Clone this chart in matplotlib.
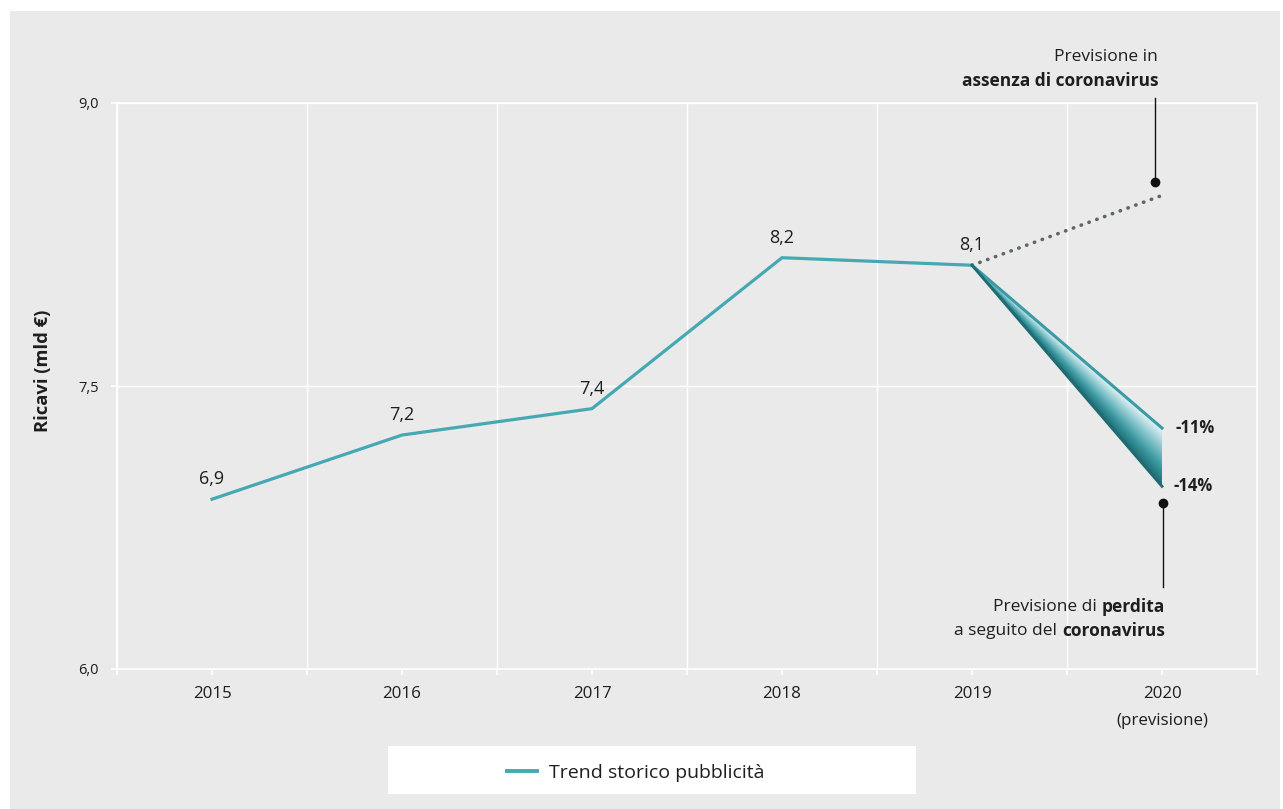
import numpy as np
import matplotlib
matplotlib.use("Agg")
import matplotlib.pyplot as plt
from matplotlib.patches import Rectangle, Polygon
from matplotlib.colors import LinearSegmentedColormap
from matplotlib.lines import Line2D

plt.rcParams["font.family"] = ["Open Sans", "DejaVu Sans"]

# --- data -------------------------------------------------------------
years = [2015, 2016, 2017, 2018, 2019]
revenue = [6.90, 7.24, 7.38, 8.18, 8.14]          # mld €
forecast_year = 2020
no_covid_forecast = 8.51                           # scenario without coronavirus
loss_pct = [-10.6, -14.4]                          # forecast loss scenarios (%)
tick_labels = ["2015", "2016", "2017", "2018", "2019", "2020\n(previsione)"]
y_ticks = [6.0, 7.5, 9.0]

TEAL = "#45a9b4"
TEAL_DARK = "#1e6b72"
BG = "#eaeaea"
INK = "#1e1e1e"

fig = plt.figure(figsize=(12.83, 8.09), dpi=100)
fig.patch.set_facecolor("white")
fig.patches.append(Rectangle((10 / 1283, 0), 1270 / 1283, 1 - 11 / 809,
                             transform=fig.transFigure, facecolor=BG,
                             edgecolor="none", zorder=-10))

ax = fig.add_axes([117 / 1283, 1 - 669 / 809, 1140 / 1283, 566 / 809])
ax.set_facecolor(BG)
ax.set_xlim(2014.5, 2020.5)
ax.set_ylim(6.0, 9.0)

for s in ax.spines.values():
    s.set_color("white")
    s.set_linewidth(1.2)

ax.set_xticks(years + [forecast_year])
ax.set_xticklabels(tick_labels, fontsize=12.2, color=INK, linespacing=1.9)
ax.set_xticks(np.arange(2014.5, 2020.6, 1.0), minor=True)
ax.set_yticks(y_ticks)
ax.set_yticklabels([f"{v:.1f}".replace(".", ",") for v in y_ticks],
                   fontsize=10.5, color=INK)
ax.tick_params(axis="x", which="both", length=4, color="white", width=1.2, pad=8.5)
ax.tick_params(axis="y", length=4, color="white", width=1.2, pad=9)
ax.grid(axis="x", which="minor", color="white", linewidth=1.0)
ax.grid(axis="y", which="major", color="white", linewidth=1.0)
ax.set_axisbelow(True)

ax.set_ylabel("Ricavi (mld €)", fontsize=13.2, fontweight="bold", color=INK)
ax.yaxis.set_label_coords(-0.057, 0.527)

# historical trend
hist_line, = ax.plot(years, revenue, color=TEAL, linewidth=2.3,
                     solid_joinstyle="miter", zorder=4)
for x, v in zip(years, revenue):
    ax.annotate(f"{v:.1f}".replace(".", ","), (x, v), xytext=(0, 14.5),
                textcoords="offset points", ha="center", va="center",
                fontsize=13, color=INK)

# forecast without coronavirus (dotted)
base = revenue[-1]
ax.plot([years[-1], forecast_year], [base, no_covid_forecast], color="#5d6668",
        linewidth=2.6, linestyle=(0, (0.1, 2.2)), dash_capstyle="round", zorder=3)

# loss scenarios with gradient wedge
upper_end = base * (1 + loss_pct[0] / 100)
lower_end = base * (1 + loss_pct[1] / 100)
x0, x1 = years[-1], forecast_year
nx, ny = 400, 400
gx = np.linspace(x0, x1, nx)
gy = np.linspace(lower_end - 0.05, base + 0.05, ny)
GX, GY = np.meshgrid(gx, gy)
frac = (GX - x0) / (x1 - x0)
y_up = base + (upper_end - base) * frac
y_lo = base + (lower_end - base) * frac
t = np.clip((GY - y_lo) / np.maximum(y_up - y_lo, 1e-9), 0, 1)
cmap = LinearSegmentedColormap.from_list(
    "wedge", [TEAL_DARK, "#3d9aa3", "#8cc8ce", "#e8f4f5"])
img = ax.imshow(t, extent=[x0, x1, gy[0], gy[-1]], origin="lower",
                cmap=cmap, vmin=0, vmax=1, aspect="auto", zorder=3,
                interpolation="bilinear")
wedge = Polygon([[x0, base], [x1, upper_end], [x1, lower_end]],
                closed=True, transform=ax.transData, facecolor="none",
                edgecolor="none")
ax.add_patch(wedge)
img.set_clip_path(wedge)
ax.plot([x0, x1], [base, upper_end], color="#3a9aa5", linewidth=2.2, zorder=4)
ax.plot([x0, x1], [base, lower_end], color=TEAL_DARK, linewidth=2.0, zorder=4)
ax.set_xlim(2014.5, 2020.5)
ax.set_ylim(6.0, 9.0)

ax.annotate(f"{loss_pct[0]:.0f}%", (x1, upper_end), xytext=(10, 0),
            textcoords="offset points", ha="left", va="center",
            fontsize=12, fontweight="bold", color=INK)
ax.annotate(f"{loss_pct[1]:.0f}%", (x1, lower_end), xytext=(8, 0),
            textcoords="offset points", ha="left", va="center",
            fontsize=12, fontweight="bold", color=INK)

# callouts
ux = forecast_year - 0.035
ax.plot([ux, ux], [8.58, 9.026], color="#111111", linewidth=1.0,
        clip_on=False, zorder=5)
ax.plot([ux], [8.58], marker="o", markersize=6, color="#111111",
        clip_on=False, zorder=5)
lx = forecast_year + 0.005
ax.plot([lx, lx], [6.88, 6.435], color="#111111", linewidth=1.0,
        clip_on=False, zorder=5)
ax.plot([lx], [6.88], marker="o", markersize=6, color="#111111",
        clip_on=False, zorder=5)

fx = lambda px: px / 1283
fy = lambda py: 1 - py / 809

fig.text(fx(1158), fy(57), "Previsione in", ha="right", va="center",
         fontsize=12.5, color=INK)
fig.text(fx(1158), fy(81), "assenza di coronavirus", ha="right", va="center",
         fontsize=12.5, fontweight="bold", color=INK)


def mixed_line(x, y, regular, bold):
    b = fig.text(fx(x), fy(y), bold, ha="right", va="center", fontsize=12.5,
                 fontweight="bold", color=INK)
    return plt.annotate(regular, xy=(0, 0.5), xycoords=b, xytext=(-3.5, 0),
                        textcoords="offset points", ha="right", va="center",
                        fontsize=12.5, color=INK, annotation_clip=False)


mixed_line(1165, 607, "Previsione di", "perdita")
mixed_line(1165, 631, "a seguito del", "coronavirus")

# legend box
fig.patches.append(Rectangle((fx(388), fy(794)), (916 - 388) / 1283, 48 / 809,
                             transform=fig.transFigure, facecolor="white",
                             edgecolor="none", zorder=-5))
fig.legend([Line2D([0], [0], color=TEAL, linewidth=2.8)],
           ["Trend storico pubblicità"], loc="center left",
           bbox_to_anchor=(fx(507), fy(773)), frameon=False, borderpad=0,
           borderaxespad=0, handlelength=1.55, handletextpad=0.6,
           fontsize=14, labelcolor=INK)

fig.savefig("out.png", dpi=100, facecolor=fig.get_facecolor())
